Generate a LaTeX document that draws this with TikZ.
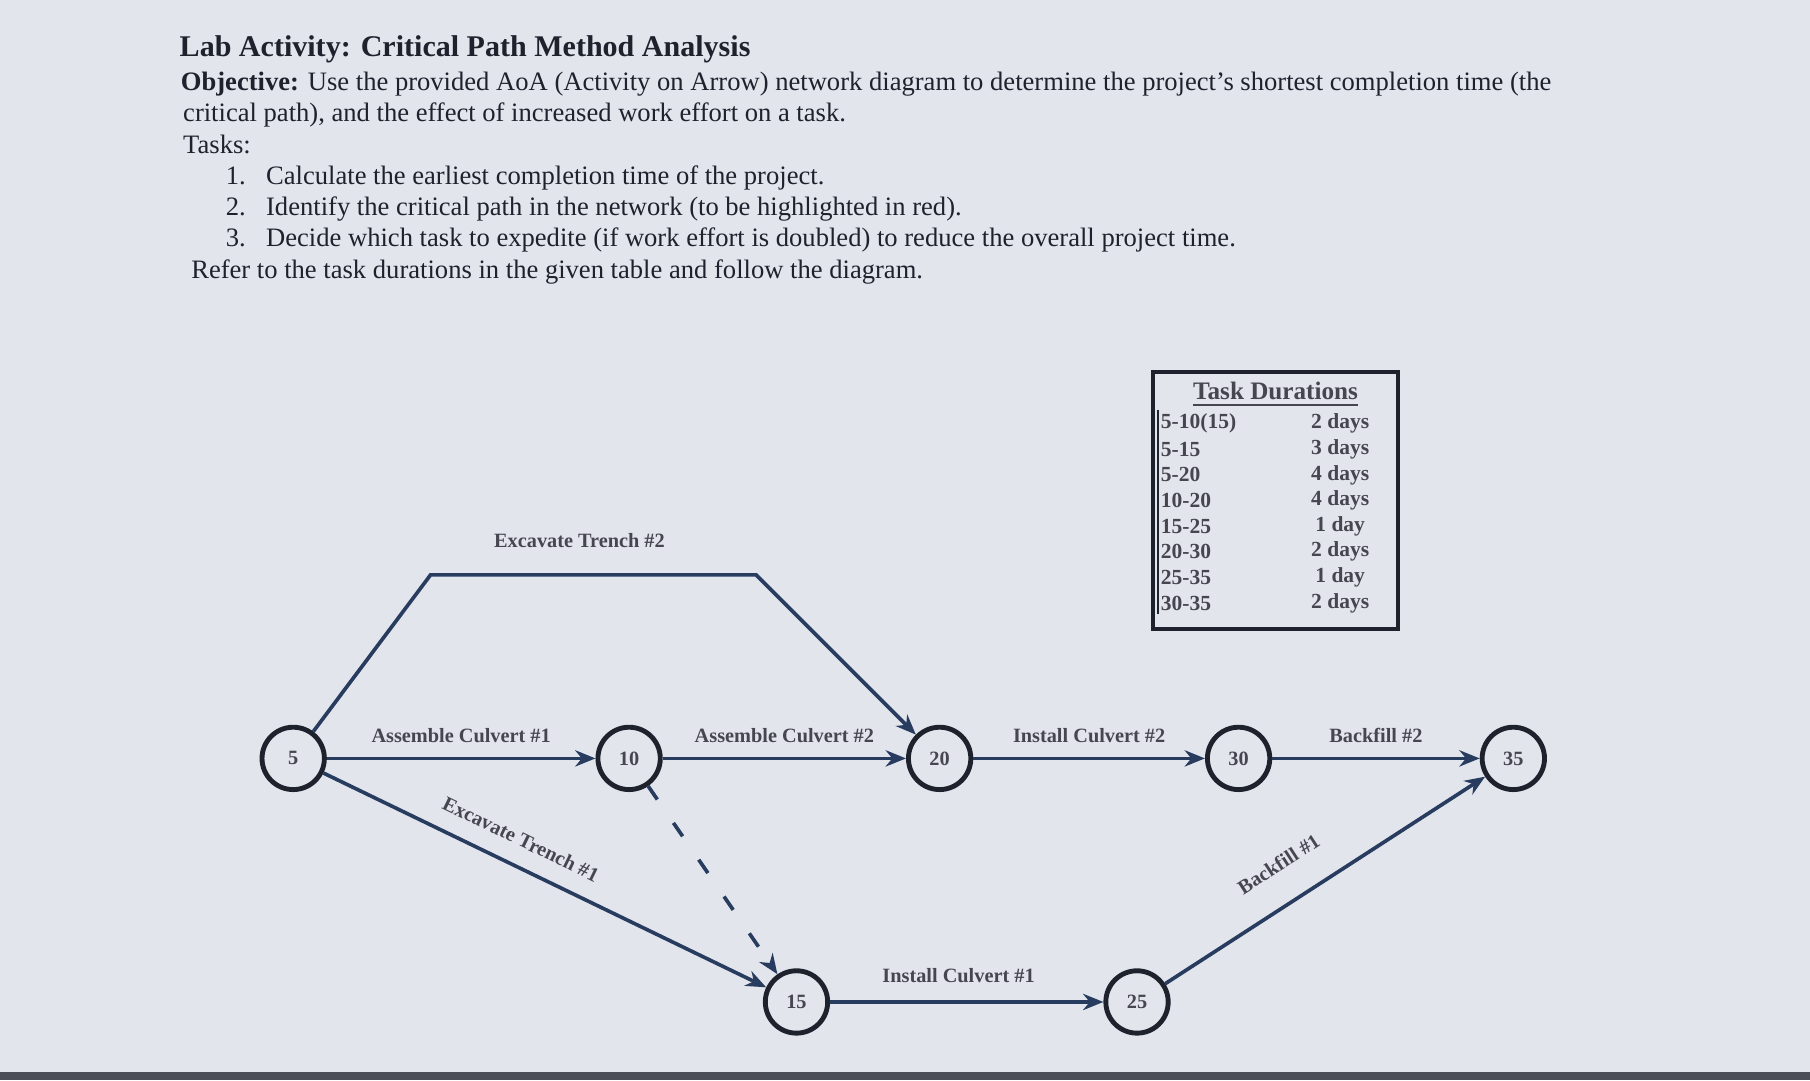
\documentclass[tikz,border=0pt]{standalone}
\usepackage{fontspec}
\setmainfont{Liberation Serif}
\usetikzlibrary{arrows.meta}
\definecolor{bg}{RGB}{226,229,236}
\definecolor{ink}{RGB}{30,34,45}
\definecolor{ln}{RGB}{40,60,95}
\definecolor{lbl}{RGB}{70,70,80}
\tikzset{
  ev/.style={circle,draw=ink,line width=1.2pt,minimum size=0.54cm,inner sep=0pt,font=\fontsize{5}{6}\selectfont\bfseries,text=lbl},
  act/.style={draw=ln,line width=0.9pt,-{Stealth[length=5pt,width=4pt]}},
  el/.style={font=\fontsize{5}{6}\selectfont\bfseries,text=lbl},
  tx/.style={anchor=west,inner sep=0pt,font=\fontsize{6.55}{8}\selectfont,text=ink},
  tr/.style={inner sep=0pt,font=\fontsize{5.3}{6}\selectfont\bfseries,text=lbl}
}
\begin{document}
\begin{tikzpicture}[x=0.01cm,y=-0.01cm]
\fill[bg] (0,0) rectangle (1568,936);
\useasboundingbox (0,0) rectangle (1568,936);
\fill[ink!80] (0,929) rectangle (1568,936);
% text
\node[tx,font=\fontsize{7.4}{8}\selectfont\bfseries] (t0) at (155,43) {Lab Activity: Critical Path Method Analysis};
\node[tx] (t1) at (156,73) {\textbf{Objective:} Use the provided AoA (Activity on Arrow) network diagram to determine the project's shortest completion time (the};
\node[tx] (t2) at (158,100) {critical path), and the effect of increased work effort on a task.};
\node[tx] (t3) at (158,125) {Tasks:};
\node[tx] (n1) at (195,154) {1.\hspace{5pt}Calculate the earliest completion time of the project.};
\node[tx] (n2) at (195,181) {2.\hspace{5pt}Identify the critical path in the network (to be highlighted in red).};
\node[tx] (n3) at (195,208) {3.\hspace{5pt}Decide which task to expedite (if work effort is doubled) to reduce the overall project time.};
\node[tx] (t4) at (165,236) {Refer to the task durations in the given table and follow the diagram.};
% table
\draw[ink,line width=0.9pt] (999,322) rectangle (1211,545);
\draw[ink,line width=0.6pt] (1003,355) -- (1003,532);
\node[tr,font=\fontsize{6.2}{7}\selectfont\bfseries] (th) at (1105,342) {\underline{Task Durations}};
\foreach \a/\b [count=\i from 0] in {5-10(15)/2 days,5-15/3 days,5-20/4 days,10-20/4 days,15-25/1 day,20-30/2 days,25-35/1 day,30-35/2 days}{
  \node[tr,anchor=west] (ta\i) at (1005,{367+22.2*\i}) {\a};
  \node[tr] (tb\i) at (1161,{367+22.2*\i}) {\b};
}
% events
\node[ev] (e5) at (254,657) {5};
\node[ev] (e10) at (545,657) {10};
\node[ev] (e20) at (814,657) {20};
\node[ev] (e30) at (1073,657) {30};
\node[ev] (e35) at (1311,657) {35};
\node[ev] (e15) at (690,868) {15};
\node[ev] (e25) at (985,868) {25};
\coordinate (k1) at (373,498);
\coordinate (k2) at (655,498);
% activities
\draw[act] (e5) -- (e10) node[el,midway,above=0pt] {Assemble Culvert \#1};
\draw[act] (e10) -- (e20) node[el,midway,above=0pt] {Assemble Culvert \#2};
\draw[act] (e20) -- (e30) node[el,midway,above=0pt] {Install Culvert \#2};
\draw[act] (e30) -- (e35) node[el,midway,above=0pt] {Backfill \#2};
\draw[act] (e15) -- (e25) node[el,pos=0.47,above=1pt] {Install Culvert \#1};
\draw[act] (e5) -- (e15) node[el,pos=0.42,above=1pt,sloped] {Excavate Trench \#1};
\draw[act] (e25) -- (e35) node[el,pos=0.42,above=4pt,sloped] {Backfill \#1};
\draw[act] (e5) -- (k1) -- (k2) -- (e20);
\node[el] (lx) at (502,468) {Excavate Trench \#2};
\draw[act,dashed,dash pattern=on 4pt off 7pt] (e10) -- (e15);
\end{tikzpicture}
\end{document}
